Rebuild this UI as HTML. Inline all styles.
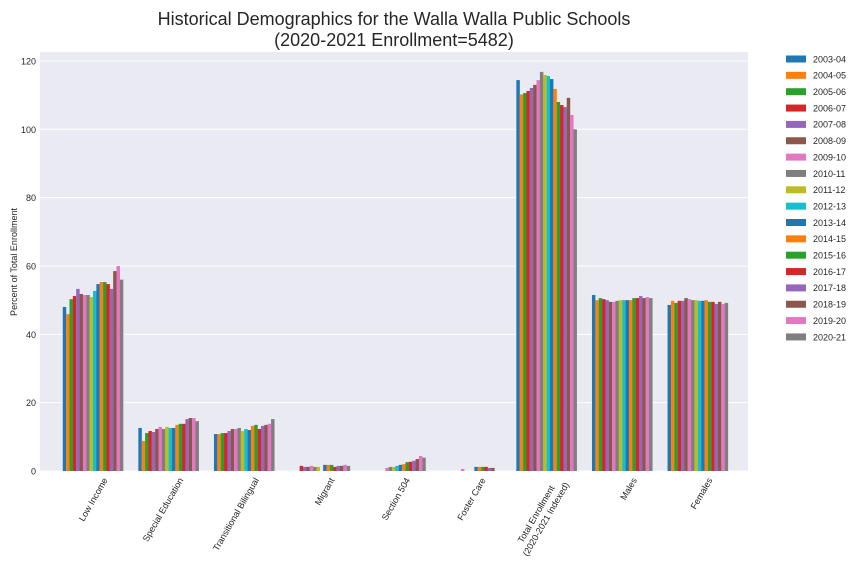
<!DOCTYPE html>
<html><head><meta charset="utf-8"><style>
body{margin:0;background:#fff;}
svg{font-family:"Liberation Sans",Arial,sans-serif;}
</style></head><body>
<svg id="chart" width="864" height="576" xmlns="http://www.w3.org/2000/svg">
<text x="394" y="25" text-anchor="middle" font-size="18" fill="#262626">Historical Demographics for the Walla Walla Public Schools</text>
<text x="394" y="46" text-anchor="middle" font-size="18" fill="#262626">(2020-2021 Enrollment=5482)</text>
<rect x="40" y="52" width="708" height="419" fill="#EAEAF2"/>
<g id="grid"></g><g id="bars"></g><g id="axes"></g><g id="legend"></g>
<text transform="translate(17,262) rotate(-90)" text-anchor="middle" font-size="9" fill="#262626">Percent of Total Enrollment</text>
</svg>
<script>
const categories=["Low Income","Special Education","Transitional Bilingual","Migrant","Section 504","Foster Care","Total Enrollment|(2020-2021 Indexed)","Males","Females"];
const years=["2003-04","2004-05","2005-06","2006-07","2007-08","2008-09","2009-10","2010-11","2011-12","2012-13","2013-14","2014-15","2015-16","2016-17","2017-18","2018-19","2019-20","2020-21"];
const lowIncome=[48,45.9,50.3,51.2,53.3,51.8,51.5,51.5,50.9,52.7,54.7,55.3,55.3,54.7,53.3,58.5,60,56];
const specialEd=[12.6,8.8,11.1,11.7,11.4,12.3,12.9,12.3,12.9,12.6,12.6,13.5,13.8,13.8,15.2,15.5,15.5,14.6];
const bilingual=[10.8,10.8,11.1,11.1,11.7,12.3,12.3,12.6,11.7,12.3,12,13.2,13.5,12.3,13.2,13.5,13.8,15.2];
const migrant=[0,0,0,1.5,1.2,1.2,1.5,1.2,1.2,0,1.8,1.8,1.8,1.2,1.5,1.5,1.8,1.5];
const sec504=[0,0,0,0,0,0,0.9,1.2,1.2,1.5,1.8,2.0,2.6,2.7,3.0,3.5,4.4,3.9];
const foster=[0,0,0,0,0,0,0.6,0,0,0,1.2,1.2,1.2,1.2,0.9,0.9,0,0];
const totalEnroll=[114.4,110.2,110.6,111.2,112.1,113,114.4,116.8,115.9,115.6,114.7,111.8,108,107.1,106.5,109.2,104.2,100];
const males=[51.5,50,50.6,50.3,50,49.5,49.5,49.8,50,50,50,50,50.6,50.6,51.2,50.6,50.9,50.6];
const females=[48.6,49.8,49.2,49.8,49.8,50.6,50.3,50,50,49.8,49.8,50,49.5,49.5,48.9,49.5,48.9,49.2];
const yTicks=[0,20,40,60,80,100,120];
const series=[lowIncome,specialEd,bilingual,migrant,sec504,foster,totalEnroll,males,females];
const colors=["#1f77b4","#ff7f0e","#2ca02c","#d62728","#9467bd","#8c564b","#e377c2","#7f7f7f","#bcbd22","#17becf","#1f77b4","#ff7f0e","#2ca02c","#d62728","#9467bd","#8c564b","#e377c2","#7f7f7f"];
const NS="http://www.w3.org/2000/svg";
const y=v=>471-v*3.417;
const xc=i=>93+i*75.6;
const bw=3.36;
function mk(tag,attrs,parent){const e=document.createElementNS(NS,tag);for(const k in attrs)e.setAttribute(k,attrs[k]);document.getElementById(parent).appendChild(e);return e;}
yTicks.forEach(t=>{
  const g=mk("line",{x1:40,x2:748,y1:y(t),y2:y(t),stroke:"#fff","stroke-width":1},"grid");
  
  
  const l=mk("text",{x:36,y:y(t)+3.5,"text-anchor":"end","font-size":9,fill:"#262626"},"axes");
  l.textContent=t;
  
  
});
series.forEach((s,ci)=>{
  const left=xc(ci)-bw*years.length/2;
  s.forEach((v,yi)=>{
    if(v<=0)return;
    const r=mk("rect",{x:left+yi*bw,y:y(v),width:bw+0.1,height:471-y(v),fill:colors[yi]},"bars");
    
    
  });
  const parts=categories[ci].split("|");
  const t=mk("text",{transform:`translate(${xc(ci)+15},480) rotate(-60)`,"text-anchor":"end","font-size":9,fill:"#262626"},"axes");
  
  
  parts.forEach((p,pi)=>{const ts=document.createElementNS(NS,"tspan");
    if(parts.length>1){ts.setAttribute("x",pi?0:-10);ts.setAttribute("dy",pi?11:-2);}
    else{ts.setAttribute("x",0);}
    ts.textContent=p;t.appendChild(ts);});
});
years.forEach((yr,i)=>{
  const yy=59+i*16.35;
  const r=mk("rect",{x:786,y:yy-3.5,width:20,height:7,fill:colors[i]},"legend");
  
  
  const t=mk("text",{x:813,y:yy+3.3,"font-size":9,fill:"#262626"},"legend");
  t.textContent=yr;
  
  
});
</script>
</body></html>
